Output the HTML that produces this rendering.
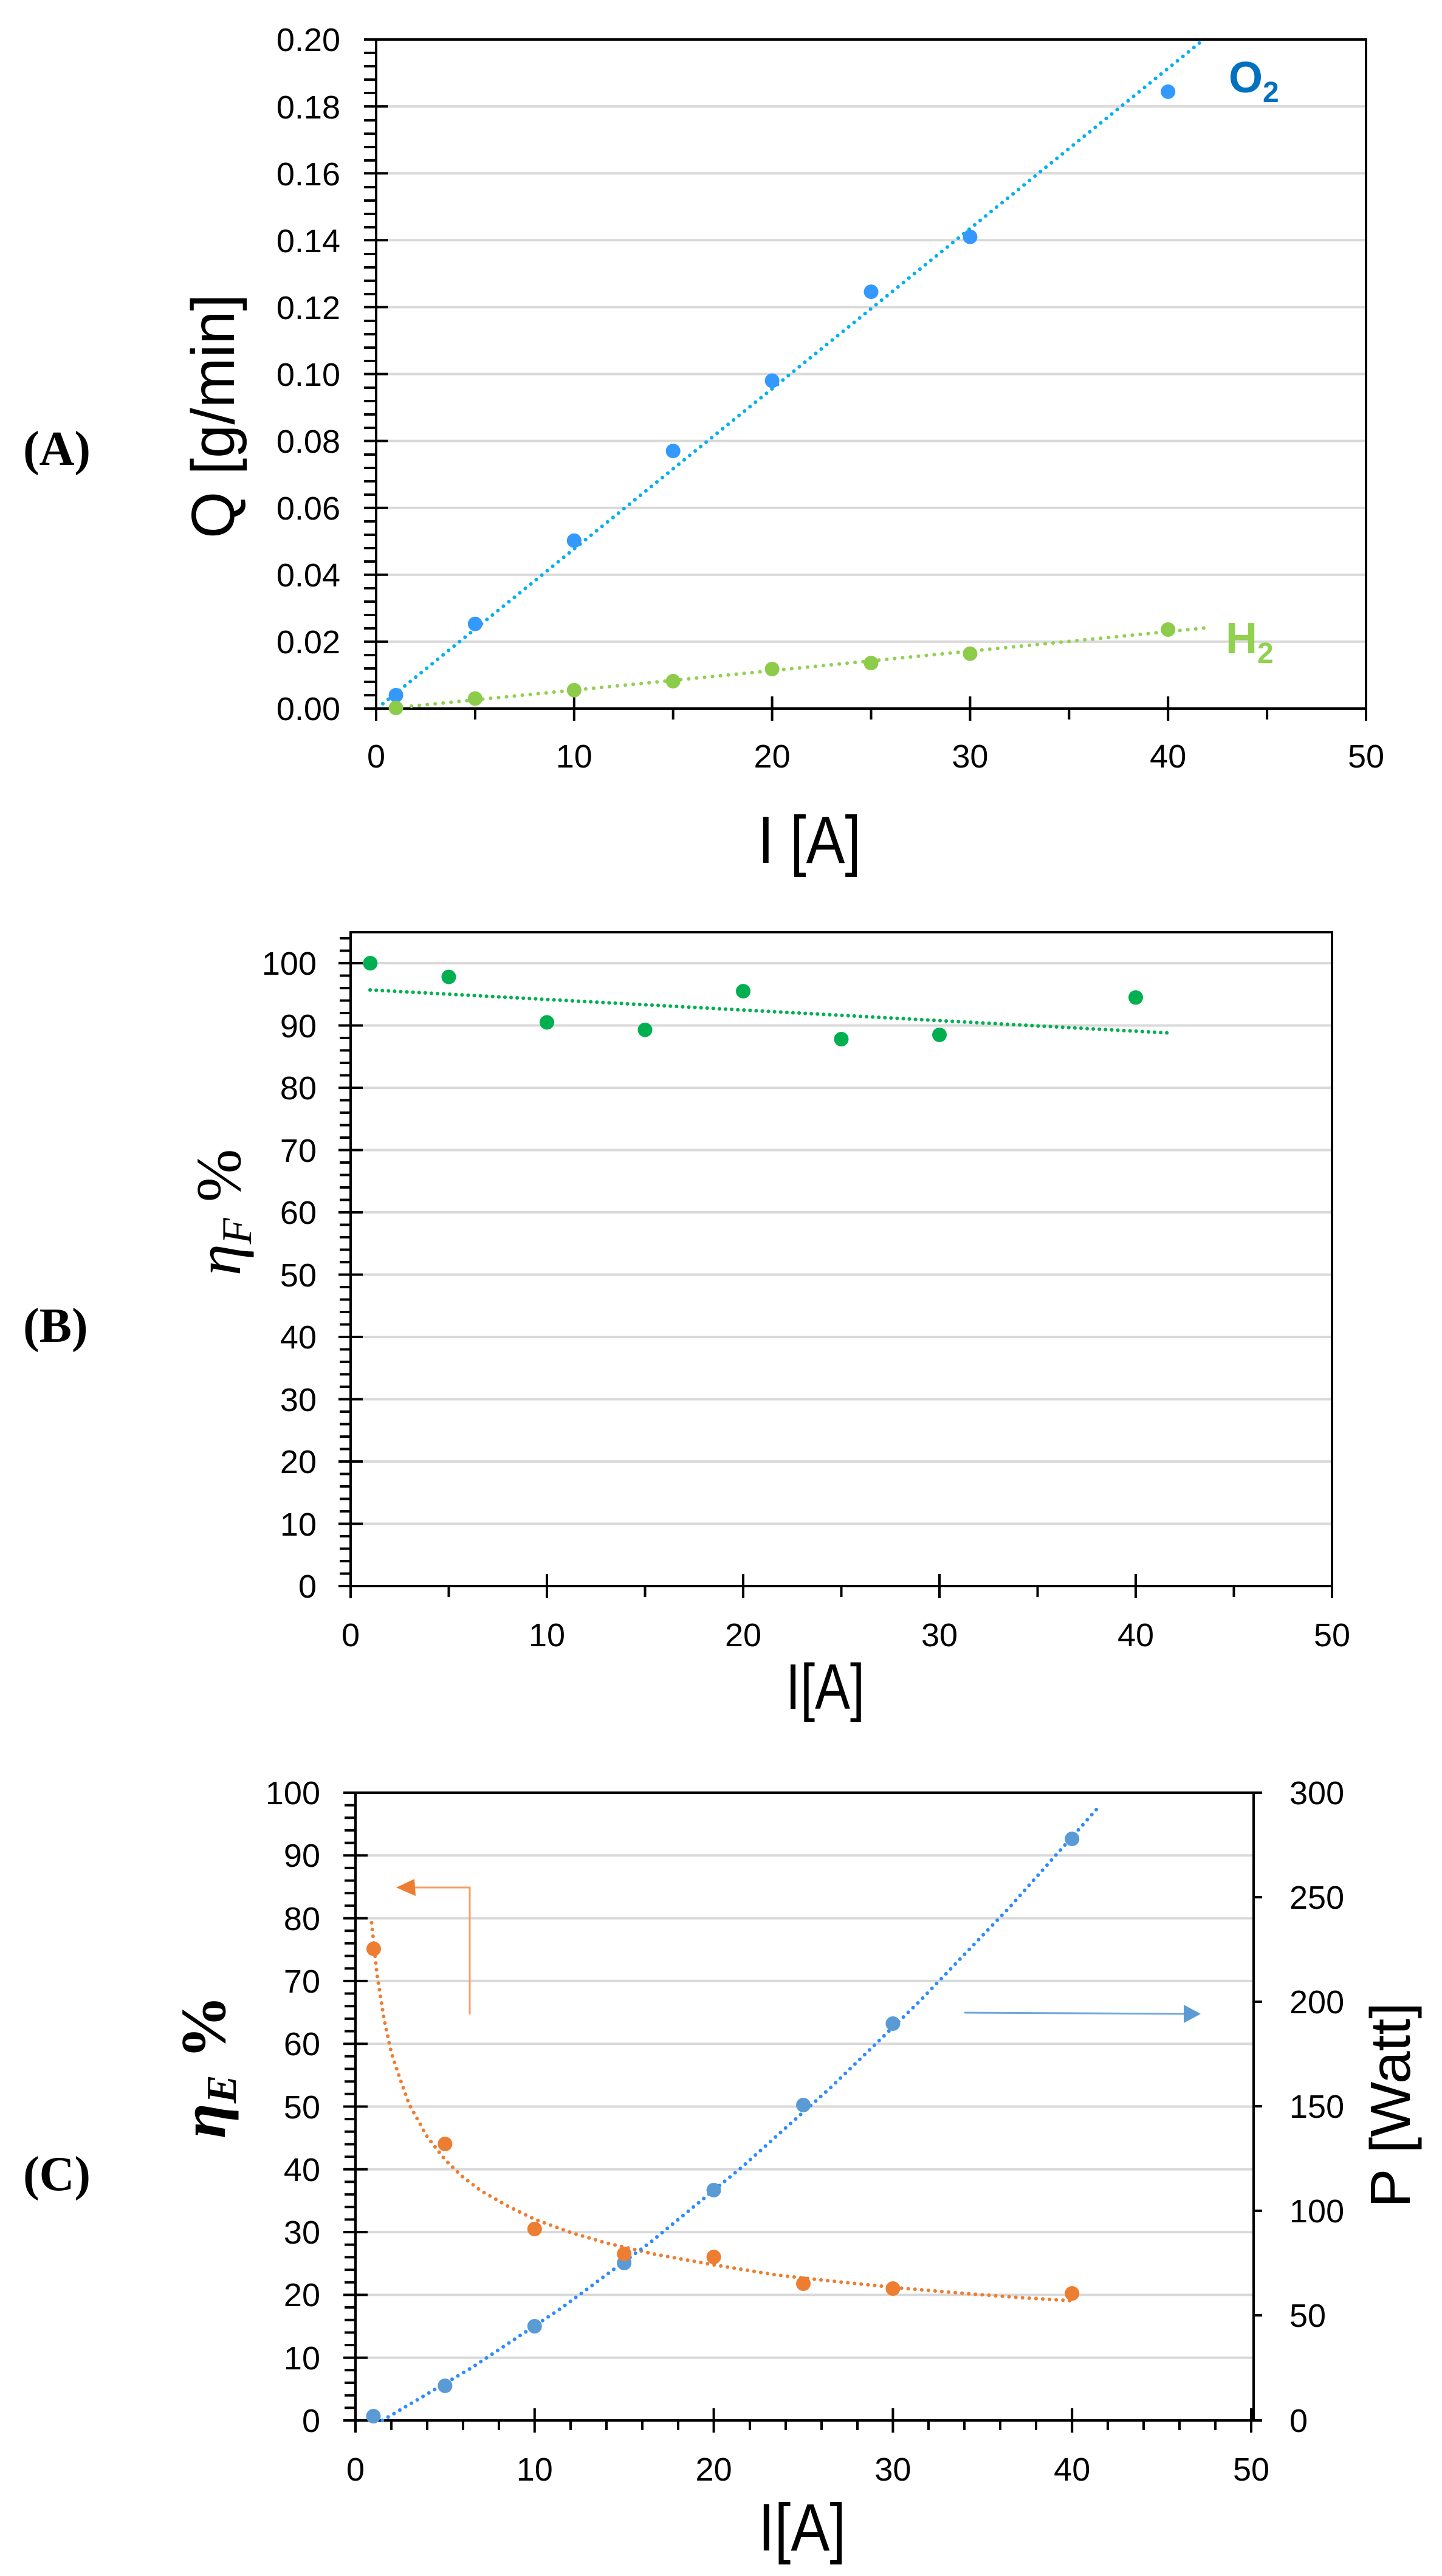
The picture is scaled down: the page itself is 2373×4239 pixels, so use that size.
<!DOCTYPE html>
<html><head><meta charset="utf-8"><style>html,body{margin:0;padding:0;background:#fff}svg{display:block}</style></head>
<body>
<svg xmlns="http://www.w3.org/2000/svg" width="2373" height="4239" viewBox="0 0 2373 4239" font-family="Liberation Sans, sans-serif">
<rect width="2373" height="4239" fill="#fff"/>

<!-- ================= CHART A ================= -->
<g stroke="#d9d9d9" stroke-width="4">
<line x1="640" y1="1055.9" x2="2248" y2="1055.9"/><line x1="640" y1="945.8" x2="2248" y2="945.8"/>
<line x1="640" y1="835.7" x2="2248" y2="835.7"/><line x1="640" y1="725.6" x2="2248" y2="725.6"/>
<line x1="640" y1="615.5" x2="2248" y2="615.5"/><line x1="640" y1="505.4" x2="2248" y2="505.4"/>
<line x1="640" y1="395.3" x2="2248" y2="395.3"/><line x1="640" y1="285.2" x2="2248" y2="285.2"/>
<line x1="640" y1="175.1" x2="2248" y2="175.1"/>
</g>
<g stroke="#000" stroke-width="4">
<rect x="619" y="65" width="1629" height="1101" fill="none" stroke-width="4"/>
<path d="M599 1166h40M599 1055.9h40M599 945.8h40M599 835.7h40M599 725.6h40M599 615.5h40M599 505.4h40M599 395.3h40M599 285.2h40M599 175.1h40M599 65h40"/>
<path d="M599 1144h20M599 1122h20M599 1100h20M599 1078h20M599 1034h20M599 1012h20M599 990h20M599 968h20M599 924h20M599 902h20M599 880h20M599 858h20M599 814h20M599 792h20M599 770h20M599 748h20M599 704h20M599 682h20M599 660h20M599 638h20M599 594h20M599 572h20M599 550h20M599 528h20M599 484h20M599 462h20M599 440h20M599 418h20M599 374h20M599 352h20M599 330h20M599 308h20M599 264h20M599 242h20M599 220h20M599 198h20M599 153h20M599 131h20M599 109h20M599 87h20"/>
<path d="M619 1146v40M944.8 1146v40M1270.6 1146v40M1596.4 1146v40M1922.2 1146v40M2248 1146v40"/>
<path d="M781.9 1166v18M1107.7 1166v18M1433.5 1166v18M1759.3 1166v18M2085.1 1166v18"/>
</g>
<g font-size="54" text-anchor="end" fill="#000">
<text x="560" y="1185">0.00</text><text x="560" y="1075">0.02</text><text x="560" y="965">0.04</text>
<text x="560" y="855">0.06</text><text x="560" y="745">0.08</text><text x="560" y="635">0.10</text>
<text x="560" y="525">0.12</text><text x="560" y="415">0.14</text><text x="560" y="305">0.16</text>
<text x="560" y="195">0.18</text><text x="560" y="84">0.20</text>
</g>
<g font-size="54" text-anchor="middle" fill="#000">
<text x="619" y="1263">0</text><text x="944.8" y="1263">10</text><text x="1270.6" y="1263">20</text>
<text x="1596.4" y="1263">30</text><text x="1922.2" y="1263">40</text><text x="2248" y="1263">50</text>
</g>
<text x="1332" y="1420" font-size="110" text-anchor="middle" textLength="170" lengthAdjust="spacingAndGlyphs">I [A]</text>
<text transform="translate(385,685) rotate(-90)" font-size="100" text-anchor="middle" textLength="402" lengthAdjust="spacingAndGlyphs">Q [g/min]</text>
<text x="38" y="765" font-family="Liberation Serif, serif" font-size="80" font-weight="bold">(A)</text>

<polyline points="630,1158 1981,65" fill="none" stroke="#00b0f0" stroke-width="6" stroke-linecap="round" stroke-dasharray="0.1 11.5"/>
<polyline points="677,1162 1987,1033" fill="none" stroke="#92d050" stroke-width="6" stroke-linecap="round" stroke-dasharray="0.1 13"/>
<g fill="#3399ff">
<circle cx="651.6" cy="1144" r="12"/><circle cx="781.9" cy="1026.7" r="12"/><circle cx="944.8" cy="889.6" r="12"/>
<circle cx="1107.7" cy="742.1" r="12"/><circle cx="1270.6" cy="626.5" r="12"/><circle cx="1433.5" cy="480.1" r="12"/>
<circle cx="1596.4" cy="389.8" r="12"/><circle cx="1922.2" cy="150.9" r="12"/>
</g>
<g fill="#8dcc4a">
<circle cx="651.6" cy="1165" r="12"/><circle cx="781.9" cy="1149.5" r="12"/><circle cx="944.8" cy="1135.7" r="12"/>
<circle cx="1107.7" cy="1120.9" r="12"/><circle cx="1270.6" cy="1101" r="12"/><circle cx="1433.5" cy="1091.1" r="12"/>
<circle cx="1596.4" cy="1075.7" r="12"/><circle cx="1922.2" cy="1036" r="12"/>
</g>
<text x="2022" y="152" font-size="72" font-weight="bold" fill="#0070c0">O<tspan font-size="48" dy="16">2</tspan></text>
<text x="2017" y="1075" font-size="72" font-weight="bold" fill="#92d050">H<tspan font-size="48" dy="16">2</tspan></text>

<!-- ================= CHART B ================= -->
<g stroke="#d9d9d9" stroke-width="4">
<line x1="597" y1="2507.5" x2="2192" y2="2507.5"/><line x1="597" y1="2405" x2="2192" y2="2405"/>
<line x1="597" y1="2302.5" x2="2192" y2="2302.5"/><line x1="597" y1="2200" x2="2192" y2="2200"/>
<line x1="597" y1="2097.5" x2="2192" y2="2097.5"/><line x1="597" y1="1995" x2="2192" y2="1995"/>
<line x1="597" y1="1892.5" x2="2192" y2="1892.5"/><line x1="597" y1="1790" x2="2192" y2="1790"/>
<line x1="597" y1="1687.5" x2="2192" y2="1687.5"/><line x1="597" y1="1585" x2="2192" y2="1585"/>
</g>
<g stroke="#000" stroke-width="4">
<rect x="577" y="1534" width="1615" height="1076" fill="none"/>
<path d="M557 2610h40M557 2507.5h40M557 2405h40M557 2302.5h40M557 2200h40M557 2097.5h40M557 1995h40M557 1892.5h40M557 1790h40M557 1687.5h40M557 1585h40"/>
<path d="M559 2589.5h18M559 2569h18M559 2548.5h18M559 2528h18M559 2487h18M559 2466.5h18M559 2446h18M559 2425.5h18M559 2384.5h18M559 2364h18M559 2343.5h18M559 2323h18M559 2282h18M559 2261.5h18M559 2241h18M559 2220.5h18M559 2179.5h18M559 2159h18M559 2138.5h18M559 2118h18M559 2077h18M559 2056.5h18M559 2036h18M559 2015.5h18M559 1974.5h18M559 1954h18M559 1933.5h18M559 1913h18M559 1872h18M559 1851.5h18M559 1831h18M559 1810.5h18M559 1769.5h18M559 1749h18M559 1728.5h18M559 1708h18M559 1667h18M559 1646.5h18M559 1626h18M559 1605.5h18M559 1564.5h18M559 1544h18"/>
<path d="M577 2590v40M900 2590v40M1223 2590v40M1546 2590v40M1869 2590v40M2192 2590v40"/>
<path d="M738.5 2610v18M1061.5 2610v18M1384.5 2610v18M1707.5 2610v18M2030.5 2610v18"/>
</g>
<g font-size="54" text-anchor="end" fill="#000">
<text x="521" y="2629">0</text><text x="521" y="2527">10</text><text x="521" y="2424">20</text>
<text x="521" y="2322">30</text><text x="521" y="2219">40</text><text x="521" y="2117">50</text>
<text x="521" y="2014">60</text><text x="521" y="1912">70</text><text x="521" y="1809">80</text>
<text x="521" y="1707">90</text><text x="521" y="1604">100</text>
</g>
<g font-size="54" text-anchor="middle" fill="#000">
<text x="577" y="2709">0</text><text x="900" y="2709">10</text><text x="1223" y="2709">20</text>
<text x="1546" y="2709">30</text><text x="1869" y="2709">40</text><text x="2192" y="2709">50</text>
</g>
<text x="1358" y="2812" font-size="106" text-anchor="middle" textLength="130" lengthAdjust="spacingAndGlyphs">I[A]</text>
<text transform="translate(395,1995) rotate(-90)" font-family="Liberation Serif, serif" font-size="105" text-anchor="middle"><tspan font-style="italic">η</tspan><tspan font-style="italic" font-size="70" dy="18">F</tspan><tspan dy="-18"> %</tspan></text>
<text x="38" y="2208" font-family="Liberation Serif, serif" font-size="80" font-weight="bold">(B)</text>

<polyline points="609,1629 1927,1700" fill="none" stroke="#00b050" stroke-width="6" stroke-linecap="round" stroke-dasharray="0.1 10"/>
<g fill="#00b050">
<circle cx="609.3" cy="1585" r="12"/><circle cx="738.5" cy="1607.6" r="12"/><circle cx="900" cy="1682.4" r="12"/>
<circle cx="1061.5" cy="1694.7" r="12"/><circle cx="1223" cy="1631.1" r="12"/><circle cx="1384.5" cy="1710" r="12"/>
<circle cx="1546" cy="1702.9" r="12"/><circle cx="1869" cy="1641.4" r="12"/>
</g>

<!-- ================= CHART C ================= -->
<g stroke="#d9d9d9" stroke-width="4">
<line x1="605" y1="3879.7" x2="2063" y2="3879.7"/><line x1="605" y1="3776.4" x2="2063" y2="3776.4"/>
<line x1="605" y1="3673.1" x2="2063" y2="3673.1"/><line x1="605" y1="3569.8" x2="2063" y2="3569.8"/>
<line x1="605" y1="3466.5" x2="2063" y2="3466.5"/><line x1="605" y1="3363.2" x2="2063" y2="3363.2"/>
<line x1="605" y1="3259.9" x2="2063" y2="3259.9"/><line x1="605" y1="3156.6" x2="2063" y2="3156.6"/>
<line x1="605" y1="3053.3" x2="2063" y2="3053.3"/>
</g>
<g stroke="#000" stroke-width="4">
<path d="M585 2950H2063V3983H585Z" fill="none"/>
<path d="M565 3983h40M565 3879.7h40M565 3776.4h40M565 3673.1h40M565 3569.8h40M565 3466.5h40M565 3363.2h40M565 3259.9h40M565 3156.6h40M565 3053.3h40M565 2950h40"/>
<path d="M567 3962.3h18M567 3941.7h18M567 3921h18M567 3900.3h18M567 3859h18M567 3838.4h18M567 3817.7h18M567 3797h18M567 3755.7h18M567 3735.1h18M567 3714.4h18M567 3693.7h18M567 3652.4h18M567 3631.8h18M567 3611.1h18M567 3590.4h18M567 3549.1h18M567 3528.5h18M567 3507.8h18M567 3487.1h18M567 3445.8h18M567 3425.2h18M567 3404.5h18M567 3383.8h18M567 3342.5h18M567 3321.9h18M567 3301.2h18M567 3280.5h18M567 3239.2h18M567 3218.6h18M567 3197.9h18M567 3177.2h18M567 3135.9h18M567 3115.3h18M567 3094.6h18M567 3073.9h18M567 3032.6h18M567 3012h18M567 2991.3h18M567 2970.6h18"/>
<path d="M585 3963v40M879.8 3963v40M1174.6 3963v40M1469.4 3963v40M1764.2 3963v40M2059 3963v40"/>
<path d="M644 3983v16M703 3983v16M762 3983v16M821 3983v16M939 3983v16M998 3983v16M1057 3983v16M1116 3983v16M1234 3983v16M1293 3983v16M1352 3983v16M1411 3983v16M1528 3983v16M1587 3983v16M1646 3983v16M1705 3983v16M1823 3983v16M1882 3983v16M1941 3983v16M2000 3983v16"/>
<path d="M2063 3983h14M2063 3810h14M2063 3638h14M2063 3466h14M2063 3294h14M2063 3122h14M2063 2950h14"/>
</g>
<g font-size="54" text-anchor="end" fill="#000">
<text x="527" y="4002">0</text><text x="527" y="3899">10</text><text x="527" y="3795">20</text>
<text x="527" y="3692">30</text><text x="527" y="3589">40</text><text x="527" y="3486">50</text>
<text x="527" y="3382">60</text><text x="527" y="3279">70</text><text x="527" y="3176">80</text>
<text x="527" y="3072">90</text><text x="527" y="2969">100</text>
</g>
<g font-size="54" fill="#000">
<text x="2122" y="4002">0</text><text x="2122" y="3829">50</text><text x="2122" y="3657">100</text>
<text x="2122" y="3485">150</text><text x="2122" y="3313">200</text><text x="2122" y="3141">250</text>
<text x="2122" y="2969">300</text>
</g>
<g font-size="54" text-anchor="middle" fill="#000">
<text x="585" y="4082">0</text><text x="879.8" y="4082">10</text><text x="1174.6" y="4082">20</text>
<text x="1469.4" y="4082">30</text><text x="1764.2" y="4082">40</text><text x="2059" y="4082">50</text>
</g>
<text x="1320" y="4197" font-size="110" text-anchor="middle" textLength="144" lengthAdjust="spacingAndGlyphs">I[A]</text>
<text transform="translate(2320,3464) rotate(-90)" font-size="93" text-anchor="middle" textLength="338" lengthAdjust="spacingAndGlyphs">P [Watt]</text>
<text transform="translate(370,3401) rotate(-90)" font-family="Liberation Serif, serif" font-size="105" font-weight="bold" text-anchor="middle"><tspan font-style="italic">η</tspan><tspan font-style="italic" font-size="70" dy="18">E</tspan><tspan dy="-18"> %</tspan></text>
<text x="38" y="3604" font-family="Liberation Serif, serif" font-size="80" font-weight="bold">(C)</text>

<!-- arrows -->
<path d="M773 3315V3106H680" fill="none" stroke="#f4a06a" stroke-width="3"/>
<path d="M652 3106L682 3092L684 3120Z" fill="#ed7d31"/>
<path d="M1587 3312L1950 3314" stroke="#6fa8dc" stroke-width="3"/>
<path d="M1976 3314L1948 3299L1948 3329Z" fill="#5b9bd5"/>

<polyline points="611.5,3164 620.4,3249 632.2,3324 644,3378 658,3420 673.4,3463 702.9,3516 732.4,3554 760,3581 791.4,3605 835,3630 879.8,3652 940,3674 997.7,3691 1080,3710 1174.6,3727 1280,3744 1381,3755 1480,3765 1587,3774 1680,3781 1764.2,3786" fill="none" stroke="#ed7d31" stroke-width="6" stroke-linecap="round" stroke-dasharray="0.1 11"/>
<polyline points="629.2,3983 776.6,3896 924,3798 1071.4,3689 1218.8,3568 1366.2,3436 1513.6,3293 1661,3139 1808.4,2973" fill="none" stroke="#2e8bff" stroke-width="6" stroke-linecap="round" stroke-dasharray="0.1 11"/>
<g fill="#5b9bd5">
<circle cx="614.5" cy="3976" r="12"/><circle cx="732.4" cy="3926" r="12"/><circle cx="879.8" cy="3828" r="12"/>
<circle cx="1027.2" cy="3724" r="12"/><circle cx="1174.6" cy="3604" r="12"/><circle cx="1322" cy="3464" r="12"/>
<circle cx="1469.4" cy="3330" r="12"/><circle cx="1764.2" cy="3026" r="12"/>
</g>
<g fill="#ed7d31">
<circle cx="615" cy="3207" r="12"/><circle cx="732.4" cy="3528" r="12"/><circle cx="879.8" cy="3668" r="12"/>
<circle cx="1027.2" cy="3709" r="12"/><circle cx="1174.6" cy="3714" r="12"/><circle cx="1322" cy="3758" r="12"/>
<circle cx="1469.4" cy="3766" r="12"/><circle cx="1764.2" cy="3774" r="12"/>
</g>
</svg>
</body></html>
